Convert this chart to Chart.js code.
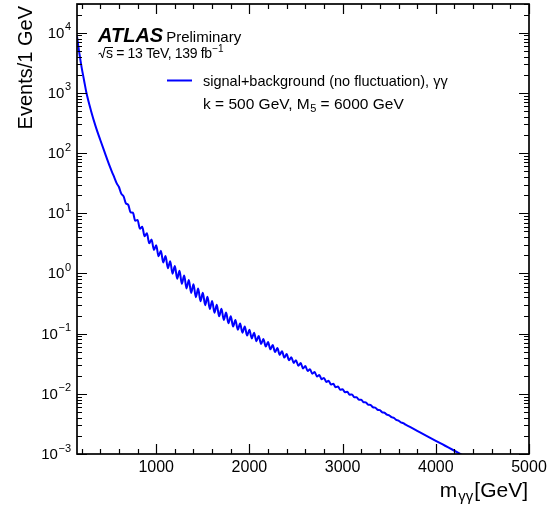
<!DOCTYPE html>
<html><head><meta charset="utf-8">
<script src="https://cdn.jsdelivr.net/npm/chart.js@4.4.1/dist/chart.umd.min.js"></script>
<style>html,body{margin:0;padding:0;background:#fff}canvas{display:block}</style>
</head><body>
<canvas id="c" width="556" height="506"></canvas>
<script>
// ---- data ----
const massGeV = [150,175,200,225,250,300,350,400,450,500,525,550,
575,600,625,650,675,700,725,750,775,800,825,850,875,900,925,950,975,1000,
1025,1050,1075,1100,1125,1150,1175,1200,1225,1250,1275,1300,1325,1350,1375,1400,
1425,1450,1475,1500,1525,1550,1575,1600,1625,1650,1675,1700,1725,1750,1775,1800,
1825,1850,1875,1900,1925,1950,1975,2000,2025,2050,2075,2100,2125,2150,2175,2200,
2225,2250,2275,2300,2325,2350,2375,2400,2425,2450,2475,2500,2525,2550,2575,2600,
2625,2650,2675,2700,2725,2750,2775,2800,2825,2850,2875,2900,2925,2950,2975,3000,
3025,3050,3075,3100,3125,3150,3175,3200,3225,3250,3275,3300,3325,3350,3375,3400,
3425,3450,3475,3500,3525,3550,3575,3600,3625,3650,3675,3700,
3800,3900,4000,4100,4200,4300];
// log10(Events / 1 GeV)
const log10Events = [3.94,3.66,3.42,3.215,3.01,2.705,2.444,2.217,2.00,1.787,1.689,1.597,
1.500,1.436,1.326,1.281,1.165,1.140,1.016,1.009,0.875,0.888,0.743,0.774,0.619,0.667,0.500,0.566,0.390,0.469,
0.284,0.377,0.184,0.289,0.088,0.204,-0.003,0.123,-0.087,0.044,-0.173,-0.032,-0.250,-0.107,-0.324,-0.180,
-0.395,-0.252,-0.462,-0.322,-0.527,-0.389,-0.591,-0.457,-0.653,-0.522,-0.713,-0.588,-0.773,-0.650,-0.829,-0.713,
-0.883,-0.775,-0.935,-0.833,-0.985,-0.881,-1.031,-0.936,-1.079,-0.987,-1.125,-1.039,-1.171,-1.089,-1.215,-1.140,
-1.261,-1.190,-1.307,-1.240,-1.352,-1.292,-1.398,-1.340,-1.442,-1.392,-1.487,-1.441,-1.533,-1.490,-1.578,-1.539,
-1.622,-1.590,-1.667,-1.639,-1.712,-1.688,-1.757,-1.736,-1.802,-1.784,-1.847,-1.833,-1.891,-1.878,-1.932,-1.923,
-1.973,-1.967,-2.015,-2.010,-2.057,-2.055,-2.099,-2.098,-2.140,-2.143,-2.182,-2.185,-2.224,-2.230,-2.265,-2.272,
-2.307,-2.315,-2.347,-2.358,-2.389,-2.401,-2.432,-2.444,-2.473,-2.486,-2.512,-2.531,
-2.614,-2.697,-2.780,-2.863,-2.946,-3.030];

const xMajorTicks = [1000,2000,3000,4000,5000];
const xMinorTicks = [200,400,600,800,1200,1400,1600,1800,2200,2400,2600,2800,3200,3400,3600,3800,4200,4400,4600,4800];
const yDecadeExponents = [-3,-2,-1,0,1,2,3,4];
const seriesLabel = 'signal+background (no fluctuation), γγ';
const modelLabel = ['k = 500 GeV, M', '5', ' = 6000 GeV'];

const FONT = '"Liberation Sans", Arial, Helvetica, sans-serif';

const decor = {
  id: 'decor',
  afterDraw(chart) {
    const {ctx, chartArea: a, scales: {x, y}} = chart;
    ctx.save();
    // frame
    ctx.strokeStyle = '#000';
    ctx.lineWidth = 1.7;
    ctx.strokeRect(a.left, a.top, a.right - a.left, a.bottom - a.top);
    // ticks
    ctx.lineWidth = 1.2;
    ctx.beginPath();
    const xt = (v, len) => {
      const px = Math.round(x.getPixelForValue(v)) + 0.5;
      ctx.moveTo(px, a.bottom); ctx.lineTo(px, a.bottom - len);
      ctx.moveTo(px, a.top); ctx.lineTo(px, a.top + len);
    };
    xMajorTicks.forEach(v => xt(v, 10));
    xMinorTicks.forEach(v => xt(v, 5));
    const yt = (v, len) => {
      if (v < y.min || v > y.max) return;
      const py = Math.round(y.getPixelForValue(v)) + 0.5;
      ctx.moveTo(a.left, py); ctx.lineTo(a.left + len, py);
      ctx.moveTo(a.right, py); ctx.lineTo(a.right - len, py);
    };
    yDecadeExponents.forEach(e => {
      yt(Math.pow(10, e), 10);
      for (let k = 2; k <= 9; k++) yt(k * Math.pow(10, e), 5);
    });
    ctx.stroke();

    ctx.fillStyle = '#000';
    // x tick labels
    ctx.font = '16px ' + FONT;
    ctx.textAlign = 'center';
    ctx.textBaseline = 'alphabetic';
    xMajorTicks.forEach(v => ctx.fillText(String(v), x.getPixelForValue(v), 472));
    // y tick labels 10^n
    ctx.textAlign = 'left';
    yDecadeExponents.forEach(e => {
      const py = y.getPixelForValue(Math.pow(10, e));
      const sup = e < 0 ? '\u2212' + (-e) : String(e);
      ctx.font = '11px ' + FONT;
      const ws = ctx.measureText(sup).width;
      ctx.font = '15px ' + FONT;
      const wb = ctx.measureText('10').width;
      const right = 71;
      ctx.fillText('10', right - ws - wb - 0.5, py + 5);
      ctx.font = '11px ' + FONT;
      ctx.fillText(sup, right - ws, py - 2.5);
    });

    // axis titles
    ctx.font = '21px ' + FONT;
    const wm = ctx.measureText('m').width;
    const wg = ctx.measureText('[GeV]').width;
    ctx.font = '15px ' + FONT;
    const wsub = ctx.measureText('γγ').width;
    let sx = 528 - wm - wsub - wg - 2;
    ctx.font = '21px ' + FONT;
    ctx.fillText('m', sx, 497);
    ctx.font = '15px ' + FONT;
    ctx.fillText('γγ', sx + wm + 1, 501);
    ctx.font = '21px ' + FONT;
    ctx.fillText('[GeV]', sx + wm + wsub + 2, 497);

    ctx.save();
    ctx.translate(32, 6);
    ctx.rotate(-Math.PI / 2);
    ctx.font = '20px ' + FONT;
    ctx.textAlign = 'right';
    ctx.fillText('Events/1 GeV', 0, 0);
    ctx.restore();

    // ATLAS label
    ctx.textAlign = 'left';
    ctx.font = 'italic bold 20px ' + FONT;
    ctx.fillText('ATLAS', 98, 42);
    const wa = ctx.measureText('ATLAS').width;
    ctx.font = '15px ' + FONT;
    ctx.fillText('Preliminary', 98 + wa + 3, 42);

    // sqrt(s) line
    ctx.lineWidth = 1;
    ctx.beginPath();
    ctx.moveTo(98.5, 54); ctx.lineTo(100.5, 53); ctx.lineTo(102.5, 58);
    ctx.lineTo(105, 47.5); ctx.lineTo(113, 47.5);
    ctx.stroke();
    ctx.font = '14px ' + FONT;
    ctx.letterSpacing = '-0.35px';
    ctx.fillText('s', 106, 57.5);
    let tx = 106 + ctx.measureText('s').width;
    const rest = ' = 13 TeV, 139 fb';
    ctx.fillText(rest, tx, 57.5);
    tx += ctx.measureText(rest).width + 0.5;
    ctx.letterSpacing = '0px';
    ctx.font = '10px ' + FONT;
    ctx.fillText('\u22121', tx, 51.5);

    // legend
    ctx.strokeStyle = chart.data.datasets[0].borderColor;
    ctx.lineWidth = 2;
    ctx.beginPath();
    ctx.moveTo(167, 80.5); ctx.lineTo(192, 80.5);
    ctx.stroke();
    ctx.font = '14.5px ' + FONT;
    ctx.fillText(seriesLabel, 203, 85.5);

    ctx.font = '15.5px ' + FONT;
    let kx = 203;
    ctx.fillText(modelLabel[0], kx, 108.5);
    kx += ctx.measureText(modelLabel[0]).width;
    ctx.font = '11px ' + FONT;
    ctx.fillText(modelLabel[1], kx + 0.5, 111.5);
    kx += ctx.measureText(modelLabel[1]).width + 0.5;
    ctx.font = '15.5px ' + FONT;
    ctx.fillText(modelLabel[2], kx, 108.5);
    ctx.restore();
  }
};

new Chart(document.getElementById('c'), {
  type: 'line',
  data: {
    datasets: [{
      label: seriesLabel,
      data: massGeV.map((m, i) => ({x: m, y: Math.pow(10, log10Events[i])})),
      borderColor: '#0000ff',
      borderWidth: 2,
      pointRadius: 0,
      fill: false,
      cubicInterpolationMode: 'monotone'
    }]
  },
  options: {
    responsive: false,
    animation: false,
    devicePixelRatio: 1,
    layout: {padding: {left: 77, right: 27, top: 4, bottom: 52}},
    scales: {
      x: {type: 'linear', min: 150, max: 5000, display: false},
      y: {type: 'logarithmic', min: 1e-3, max: 3e4, display: false}
    },
    plugins: {legend: {display: false}, tooltip: {enabled: false}}
  },
  plugins: [decor]
});
</script>
</body></html>
